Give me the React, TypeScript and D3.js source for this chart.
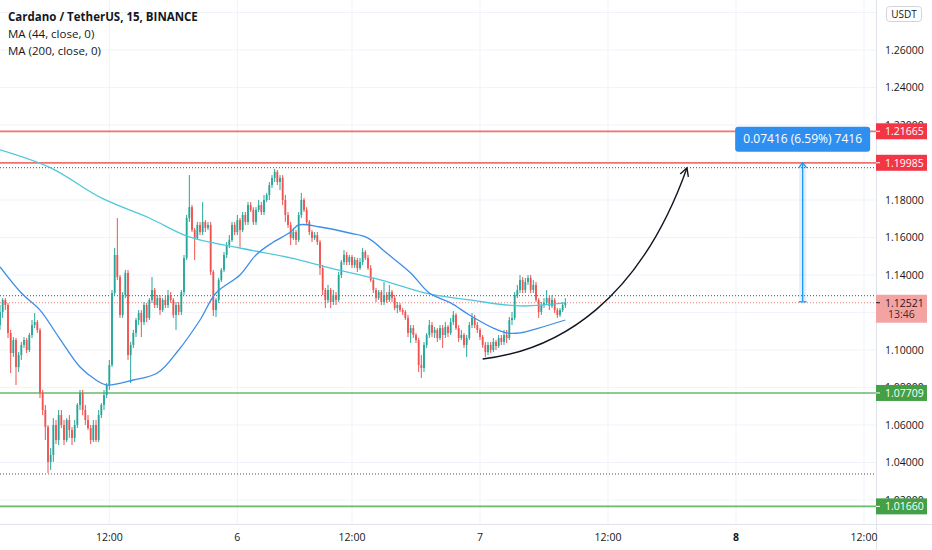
import React, { useEffect } from 'react';
import * as d3 from 'd3';

// 15m ADA/USDT candles, [open, high, low, close]
const candles: [number, number, number, number][] = [
  [1.1133, 1.1240, 1.1107, 1.1203], [1.1203, 1.1277, 1.1171, 1.1267], [1.1267, 1.1277, 1.1213, 1.1240],
  [1.1240, 1.1251, 1.1064, 1.1091], [1.1091, 1.1107, 1.0877, 1.0984], [1.0984, 1.1069, 1.0963, 1.1053],
  [1.1053, 1.1064, 1.0813, 1.0909], [1.0909, 1.0989, 1.0883, 1.0973], [1.0973, 1.1043, 1.0947, 1.1027],
  [1.1027, 1.1069, 1.1011, 1.1053], [1.1053, 1.1064, 1.0984, 1.1000], [1.1000, 1.1091, 1.0989, 1.1080],
  [1.1080, 1.1160, 1.1064, 1.1133], [1.1133, 1.1197, 1.1117, 1.1149], [1.1149, 1.1160, 1.1091, 1.1107],
  [1.1107, 1.1117, 1.0744, 1.0771], [1.0771, 1.0787, 1.0653, 1.0680], [1.0680, 1.0707, 1.0520, 1.0589],
  [1.0589, 1.0600, 1.0344, 1.0403], [1.0403, 1.0477, 1.0360, 1.0440], [1.0440, 1.0637, 1.0403, 1.0600],
  [1.0600, 1.0627, 1.0499, 1.0520], [1.0520, 1.0680, 1.0493, 1.0653], [1.0653, 1.0680, 1.0584, 1.0600],
  [1.0600, 1.0627, 1.0493, 1.0520], [1.0520, 1.0637, 1.0509, 1.0627], [1.0627, 1.0653, 1.0531, 1.0573],
  [1.0573, 1.0589, 1.0493, 1.0531], [1.0531, 1.0627, 1.0509, 1.0600], [1.0600, 1.0717, 1.0584, 1.0707],
  [1.0707, 1.0787, 1.0680, 1.0771], [1.0771, 1.0787, 1.0653, 1.0680], [1.0680, 1.0707, 1.0600, 1.0627],
  [1.0627, 1.0653, 1.0573, 1.0584], [1.0584, 1.0600, 1.0499, 1.0520], [1.0520, 1.0627, 1.0509, 1.0600],
  [1.0600, 1.0627, 1.0509, 1.0520], [1.0520, 1.0680, 1.0509, 1.0653], [1.0653, 1.0717, 1.0637, 1.0707],
  [1.0707, 1.0787, 1.0680, 1.0760], [1.0760, 1.0824, 1.0744, 1.0813], [1.0813, 1.0947, 1.0787, 1.0920],
  [1.0920, 1.1320, 1.0909, 1.1304], [1.1304, 1.1544, 1.1293, 1.1507], [1.1507, 1.1704, 1.1373, 1.1389],
  [1.1389, 1.1400, 1.1171, 1.1187], [1.1187, 1.1309, 1.1171, 1.1293], [1.1293, 1.1427, 1.1277, 1.1411],
  [1.1411, 1.1427, 1.0947, 1.0973], [1.0973, 1.1043, 1.0824, 1.1027], [1.1027, 1.1107, 1.1011, 1.1091],
  [1.1091, 1.1171, 1.1069, 1.1160], [1.1160, 1.1213, 1.1133, 1.1197], [1.1197, 1.1213, 1.1069, 1.1149],
  [1.1149, 1.1256, 1.1133, 1.1240], [1.1240, 1.1251, 1.1149, 1.1171], [1.1171, 1.1277, 1.1160, 1.1267],
  [1.1267, 1.1389, 1.1251, 1.1320], [1.1320, 1.1331, 1.1224, 1.1240], [1.1240, 1.1293, 1.1224, 1.1277],
  [1.1277, 1.1293, 1.1187, 1.1213], [1.1213, 1.1277, 1.1203, 1.1267], [1.1267, 1.1293, 1.1224, 1.1240],
  [1.1240, 1.1320, 1.1224, 1.1293], [1.1293, 1.1309, 1.1251, 1.1267], [1.1267, 1.1277, 1.1171, 1.1187],
  [1.1187, 1.1256, 1.1107, 1.1240], [1.1240, 1.1256, 1.1187, 1.1203], [1.1203, 1.1320, 1.1187, 1.1309],
  [1.1309, 1.1507, 1.1293, 1.1491], [1.1491, 1.1720, 1.1480, 1.1704], [1.1704, 1.1933, 1.1683, 1.1762],
  [1.1762, 1.1773, 1.1629, 1.1640], [1.1640, 1.1651, 1.1480, 1.1597], [1.1597, 1.1683, 1.1587, 1.1667],
  [1.1667, 1.1683, 1.1613, 1.1629], [1.1629, 1.1789, 1.1613, 1.1683], [1.1683, 1.1693, 1.1629, 1.1651],
  [1.1651, 1.1683, 1.1640, 1.1667], [1.1667, 1.1683, 1.1400, 1.1416], [1.1416, 1.1427, 1.1181, 1.1213],
  [1.1213, 1.1277, 1.1176, 1.1267], [1.1267, 1.1384, 1.1251, 1.1373], [1.1373, 1.1437, 1.1363, 1.1427],
  [1.1427, 1.1523, 1.1416, 1.1507], [1.1507, 1.1576, 1.1491, 1.1560], [1.1560, 1.1613, 1.1544, 1.1587],
  [1.1587, 1.1683, 1.1576, 1.1667], [1.1667, 1.1683, 1.1613, 1.1629], [1.1629, 1.1720, 1.1613, 1.1693],
  [1.1693, 1.1704, 1.1549, 1.1640], [1.1640, 1.1736, 1.1629, 1.1720], [1.1720, 1.1736, 1.1667, 1.1683],
  [1.1683, 1.1789, 1.1667, 1.1773], [1.1773, 1.1789, 1.1736, 1.1747], [1.1747, 1.1762, 1.1667, 1.1683],
  [1.1683, 1.1762, 1.1667, 1.1747], [1.1747, 1.1800, 1.1736, 1.1773], [1.1773, 1.1789, 1.1720, 1.1736],
  [1.1736, 1.1827, 1.1720, 1.1800], [1.1800, 1.1838, 1.1789, 1.1827], [1.1827, 1.1896, 1.1800, 1.1880],
  [1.1880, 1.1933, 1.1864, 1.1918], [1.1918, 1.1966, 1.1896, 1.1950], [1.1950, 1.1960, 1.1880, 1.1896],
  [1.1896, 1.1933, 1.1853, 1.1918], [1.1918, 1.1933, 1.1773, 1.1800], [1.1800, 1.1827, 1.1683, 1.1720],
  [1.1720, 1.1736, 1.1651, 1.1667], [1.1667, 1.1683, 1.1560, 1.1597], [1.1597, 1.1651, 1.1587, 1.1629],
  [1.1629, 1.1640, 1.1560, 1.1587], [1.1587, 1.1736, 1.1576, 1.1720], [1.1720, 1.1838, 1.1704, 1.1800],
  [1.1800, 1.1811, 1.1736, 1.1747], [1.1747, 1.1762, 1.1667, 1.1683], [1.1683, 1.1693, 1.1613, 1.1629],
  [1.1629, 1.1640, 1.1576, 1.1597], [1.1597, 1.1629, 1.1587, 1.1613], [1.1613, 1.1629, 1.1560, 1.1576],
  [1.1576, 1.1587, 1.1400, 1.1437], [1.1437, 1.1453, 1.1293, 1.1320], [1.1320, 1.1331, 1.1224, 1.1267],
  [1.1267, 1.1347, 1.1251, 1.1320], [1.1320, 1.1331, 1.1224, 1.1256], [1.1256, 1.1320, 1.1240, 1.1293],
  [1.1293, 1.1309, 1.1240, 1.1267], [1.1267, 1.1416, 1.1256, 1.1400], [1.1400, 1.1480, 1.1384, 1.1469],
  [1.1469, 1.1533, 1.1453, 1.1507], [1.1507, 1.1523, 1.1453, 1.1469], [1.1469, 1.1507, 1.1453, 1.1496],
  [1.1496, 1.1507, 1.1437, 1.1453], [1.1453, 1.1496, 1.1437, 1.1480], [1.1480, 1.1491, 1.1416, 1.1437],
  [1.1437, 1.1491, 1.1427, 1.1469], [1.1469, 1.1544, 1.1453, 1.1523], [1.1523, 1.1533, 1.1480, 1.1491],
  [1.1491, 1.1507, 1.1427, 1.1437], [1.1437, 1.1453, 1.1363, 1.1373], [1.1373, 1.1384, 1.1304, 1.1320],
  [1.1320, 1.1331, 1.1256, 1.1277], [1.1277, 1.1320, 1.1267, 1.1309], [1.1309, 1.1320, 1.1240, 1.1256],
  [1.1256, 1.1363, 1.1240, 1.1293], [1.1293, 1.1309, 1.1251, 1.1267], [1.1267, 1.1347, 1.1256, 1.1309],
  [1.1309, 1.1320, 1.1256, 1.1277], [1.1277, 1.1293, 1.1213, 1.1224], [1.1224, 1.1256, 1.1197, 1.1240],
  [1.1240, 1.1251, 1.1203, 1.1213], [1.1213, 1.1224, 1.1187, 1.1203], [1.1203, 1.1213, 1.1160, 1.1171],
  [1.1171, 1.1187, 1.1069, 1.1091], [1.1091, 1.1133, 1.1037, 1.1117], [1.1117, 1.1133, 1.1064, 1.1080],
  [1.1080, 1.1091, 1.1037, 1.1053], [1.1053, 1.1064, 1.0883, 1.0920], [1.0920, 1.0973, 1.0851, 1.0904],
  [1.0904, 1.1043, 1.0883, 1.1027], [1.1027, 1.1091, 1.1011, 1.1080], [1.1080, 1.1160, 1.1064, 1.1133],
  [1.1133, 1.1149, 1.1069, 1.1091], [1.1091, 1.1123, 1.1064, 1.1107], [1.1107, 1.1117, 1.1043, 1.1064],
  [1.1064, 1.1133, 1.1053, 1.1117], [1.1117, 1.1133, 1.1011, 1.1080], [1.1080, 1.1149, 1.1064, 1.1123],
  [1.1123, 1.1133, 1.1069, 1.1091], [1.1091, 1.1171, 1.1080, 1.1149], [1.1149, 1.1208, 1.1133, 1.1187],
  [1.1187, 1.1197, 1.1107, 1.1117], [1.1117, 1.1133, 1.1043, 1.1064], [1.1064, 1.1107, 1.1053, 1.1080],
  [1.1080, 1.1091, 1.1011, 1.1027], [1.1027, 1.1080, 1.0963, 1.1064], [1.1064, 1.1149, 1.1053, 1.1133],
  [1.1133, 1.1197, 1.1117, 1.1171], [1.1171, 1.1187, 1.1117, 1.1133], [1.1133, 1.1149, 1.1091, 1.1107],
  [1.1107, 1.1117, 1.1053, 1.1069], [1.1069, 1.1080, 1.1011, 1.1027], [1.1027, 1.1043, 1.0963, 1.0989],
  [1.0989, 1.1043, 1.0973, 1.1027], [1.1027, 1.1043, 1.0984, 1.1000], [1.1000, 1.1064, 1.0989, 1.1043],
  [1.1043, 1.1053, 1.1000, 1.1021], [1.1021, 1.1080, 1.1011, 1.1064], [1.1064, 1.1080, 1.1027, 1.1043],
  [1.1043, 1.1107, 1.1027, 1.1080], [1.1080, 1.1107, 1.1037, 1.1064], [1.1064, 1.1176, 1.1053, 1.1160],
  [1.1160, 1.1203, 1.1133, 1.1171], [1.1171, 1.1309, 1.1160, 1.1293], [1.1293, 1.1347, 1.1277, 1.1320],
  [1.1320, 1.1400, 1.1304, 1.1373], [1.1373, 1.1389, 1.1304, 1.1320], [1.1320, 1.1384, 1.1304, 1.1363],
  [1.1363, 1.1400, 1.1347, 1.1384], [1.1384, 1.1400, 1.1304, 1.1320], [1.1320, 1.1373, 1.1304, 1.1347],
  [1.1347, 1.1363, 1.1256, 1.1267], [1.1267, 1.1277, 1.1171, 1.1203], [1.1203, 1.1256, 1.1187, 1.1240],
  [1.1240, 1.1277, 1.1224, 1.1251], [1.1251, 1.1320, 1.1240, 1.1277], [1.1277, 1.1293, 1.1213, 1.1235],
  [1.1235, 1.1293, 1.1224, 1.1267], [1.1267, 1.1277, 1.1197, 1.1213], [1.1213, 1.1224, 1.1171, 1.1187],
  [1.1187, 1.1224, 1.1176, 1.1213], [1.1213, 1.1256, 1.1203, 1.1240], [1.1240, 1.1277, 1.1224, 1.12521],
];

// moving averages sampled along the bars (bar index, value)
const ma44Bars = [0, 8, 15, 22, 30, 36, 40, 50, 59, 67, 75, 81, 90, 96, 102, 109, 112, 120, 131, 138, 145, 154, 161, 169, 176, 185, 190, 195, 202, 212];
const ma44Values = [1.1443, 1.1304, 1.1213, 1.1069, 1.0909, 1.0840, 1.0813, 1.0840, 1.0877, 1.1000, 1.1160, 1.1304, 1.1400, 1.1507, 1.1571, 1.1629, 1.1667, 1.1656, 1.1624, 1.1597, 1.1517, 1.1411, 1.1304, 1.1251, 1.1187, 1.1117, 1.1091, 1.1091, 1.1117, 1.1160];
const ma200Bars = [0, 19, 38, 56, 71, 90, 109, 124, 143, 161, 176, 195, 212];
const ma200Values = [1.2067, 1.1971, 1.1811, 1.1704, 1.1603, 1.1544, 1.1491, 1.1437, 1.1373, 1.1299, 1.1267, 1.1235, 1.1251];

const priceTicks = [1.02, 1.04, 1.06, 1.08, 1.10, 1.12, 1.14, 1.16, 1.18, 1.20, 1.22, 1.24, 1.26, 1.28];
// tick labels that sit fully under a price badge are not shown by the chart
const hiddenTickLabels = [1.12, 1.20, 1.28];
const timeTickBars = [41, 89, 132, 180, 228, 276, 324];
const timeTickLabels = ['12:00', '6', '12:00', '7', '12:00', '8', '12:00'];

const resistanceLevels = [1.21665, 1.19985];
const supportLevels = [1.07709, 1.01660];
const dottedLevels = [1.19723, 1.12896, 1.03387];
const lastPrice = 1.12521;
const countdown = '13:46';

const measureBar = 301;
const measureFrom = 1.12569;
const measureTo = 1.19985;
const measureText = '0.07416 (6.59%) 7416';

// hand-drawn projection arrow: start, two control points, end
const arrowBars = [181, 210, 240, 257.6];
const arrowPrices = [1.0952, 1.1000, 1.1267, 1.1971];

const legendTitle = 'Cardano / TetherUS, 15, BINANCE';
const legendLines = ['MA (44, close, 0)', 'MA (200, close, 0)'];

const UP = '#26a69a';
const DOWN = '#ef5350';
const FONT = '"Open Sans", "Noto Sans", sans-serif';

export default function App() {
  useEffect(() => {
    document.body.style.margin = '0';
  }, []);

  const width = 932, height = 550;
  const plotRight = 876, plotBottom = 524;

  const x = d3.scaleLinear().domain([0, 328.5]).range([0, plotRight]);
  const y = d3.scaleLinear().domain([1.10, 1.26]).range([350, 50]);

  const line = d3.line<[number, number]>()
    .x(d => x(d[0]))
    .y(d => y(d[1]))
    .curve(d3.curveCatmullRom.alpha(0.5));

  const ma44Path = line(ma44Bars.map((b, i) => [b, ma44Values[i]]))!;
  const ma200Path = line(ma200Bars.map((b, i) => [b, ma200Values[i]]))!;

  const bodyW = 1.8;

  const ap = arrowBars.map((b, i) => [x(b), y(arrowPrices[i])]);
  const arrowPath = d3.path();
  arrowPath.moveTo(ap[0][0], ap[0][1]);
  arrowPath.bezierCurveTo(ap[1][0], ap[1][1], ap[2][0], ap[2][1], ap[3][0], ap[3][1]);
  const ang = Math.atan2(ap[3][1] - ap[2][1], ap[3][0] - ap[2][0]);
  const headLen = 9;
  const head = [ang + Math.PI - 0.5, ang + Math.PI + 0.5].map(a => [ap[3][0] + headLen * Math.cos(a), ap[3][1] + headLen * Math.sin(a)]);

  const mx = x(measureBar);
  const mTop = y(measureTo);
  const mBot = y(measureFrom);

  const axisLabelX = 885;

  const priceLabel = (p: number, bg: string, fg: string, key: string) => (
    <g key={key}>
      <rect x={plotRight} y={y(p) - 8} width={51} height={16} fill={bg} />
      <line x1={plotRight} x2={plotRight + 4} y1={y(p)} y2={y(p)} stroke={fg} strokeWidth={1} />
      <text x={axisLabelX} y={y(p) + 3.8} fontSize={10.5} fill={fg} fontFamily={FONT}>{p.toFixed(5)}</text>
    </g>
  );

  return (
    <svg width={width} height={height} style={{ position: 'absolute', left: 0, top: 0, background: '#fff' }}>
      <defs>
        <clipPath id="plot">
          <rect x={0} y={0} width={plotRight} height={plotBottom} />
        </clipPath>
      </defs>

      {/* grid */}
      <g stroke="#f0f3fa" strokeWidth={1}>
        {priceTicks.map(t => (
          <line key={t} x1={0} x2={plotRight} y1={y(t)} y2={y(t)} />
        ))}
        {timeTickBars.map((b, i) => (
          <line key={i} x1={x(b)} x2={x(b)} y1={0} y2={plotBottom} />
        ))}
      </g>

      <g clipPath="url(#plot)">
        {/* dotted reference lines */}
        {dottedLevels.map(p => (
          <line key={p} x1={0} x2={plotRight} y1={y(p)} y2={y(p)} stroke="#4a4e59" strokeWidth={1} strokeDasharray="1 2" />
        ))}
        <line x1={0} x2={plotRight} y1={y(lastPrice)} y2={y(lastPrice)} stroke={DOWN} strokeOpacity={0.75} strokeWidth={1} strokeDasharray="1 2" />

        {/* horizontal levels */}
        {resistanceLevels.map(p => (
          <line key={p} x1={0} x2={plotRight} y1={y(p)} y2={y(p)} stroke="#f05a52" strokeOpacity={0.85} strokeWidth={1.8} />
        ))}
        {supportLevels.map(p => (
          <line key={p} x1={0} x2={plotRight} y1={y(p)} y2={y(p)} stroke="#4caf50" strokeOpacity={0.85} strokeWidth={1.6} />
        ))}

        {/* candles */}
        {candles.map(([o, h, l, c], i) => {
          const col = c >= o ? UP : DOWN;
          const cx = x(i);
          const top = y(Math.max(o, c));
          const bh = Math.max(1, y(Math.min(o, c)) - top);
          return (
            <g key={i}>
              <line x1={cx} x2={cx} y1={y(h)} y2={y(l)} stroke={col} strokeWidth={1} />
              <rect x={cx - bodyW / 2} y={top} width={bodyW} height={bh} fill={col} />
            </g>
          );
        })}

        {/* moving averages */}
        <path d={ma200Path} fill="none" stroke="#4fc8dc" strokeWidth={1.3} />
        <path d={ma44Path} fill="none" stroke="#3d8ee8" strokeWidth={1.3} />

        {/* projection arrow */}
        <path d={arrowPath.toString()} fill="none" stroke="#131722" strokeWidth={1.4} />
        <polyline points={`${head[0][0]},${head[0][1]} ${ap[3][0]},${ap[3][1]} ${head[1][0]},${head[1][1]}`} fill="none" stroke="#131722" strokeWidth={1.4} />

        {/* price range measure */}
        <rect x={mx - 3.5} y={mTop} width={7} height={mBot - mTop} fill="#2196f3" fillOpacity={0.15} />
        <line x1={mx} x2={mx} y1={mTop} y2={mBot} stroke="#2196f3" strokeWidth={1.3} />
        <polyline points={`${mx - 4},${mTop + 5} ${mx},${mTop} ${mx + 4},${mTop + 5}`} fill="none" stroke="#2196f3" strokeWidth={1.3} />
        <line x1={mx - 4} x2={mx + 4} y1={mBot} y2={mBot} stroke="#2196f3" strokeWidth={1.3} />
        <rect x={mx - 67.5} y={mTop - 36} width={135} height={25} rx={3} fill="#2f8ff0" />
        <text x={mx} y={mTop - 19.5} textAnchor="middle" fontSize={12} fill="#fff" fontFamily={FONT}>{measureText}</text>
      </g>

      {/* axes frame */}
      <line x1={plotRight + 0.5} x2={plotRight + 0.5} y1={0} y2={height} stroke="#e0e3eb" />
      <line x1={0} x2={width} y1={plotBottom + 0.5} y2={plotBottom + 0.5} stroke="#e0e3eb" />

      {/* price axis */}
      {priceTicks.filter(t => !hiddenTickLabels.includes(t)).map(t => (
        <text key={t} x={axisLabelX} y={y(t) + 3.8} fontSize={10.5} fill="#131722" fontFamily={FONT}>{t.toFixed(5)}</text>
      ))}
      <rect x={886.5} y={6.5} width={35} height={15} rx={3} fill="#fff" stroke="#d1d4dc" />
      <text x={904} y={17.5} textAnchor="middle" fontSize={10} fill="#131722" fontFamily={FONT}>USDT</text>

      {resistanceLevels.map(p => priceLabel(p, '#f23645', '#fff', 'r' + p))}
      {supportLevels.map(p => priceLabel(p, '#43a047', '#fff', 's' + p))}
      <g>
        <rect x={plotRight} y={y(lastPrice) - 8} width={51} height={28} fill="#f4a3a3" />
        <line x1={plotRight} x2={plotRight + 4} y1={y(lastPrice)} y2={y(lastPrice)} stroke="#131722" />
        <text x={axisLabelX} y={y(lastPrice) + 3.8} fontSize={10.5} fill="#2a1a1a" fontFamily={FONT}>{lastPrice.toFixed(5)}</text>
        <text x={axisLabelX + 3} y={y(lastPrice) + 15.5} fontSize={10.5} fill="#4a2a2a" fontFamily={FONT}>{countdown}</text>
      </g>

      {/* time axis */}
      {timeTickBars.map((b, i) => (
        <text key={i} x={x(b)} y={541} textAnchor="middle" fontSize={10.5} fill="#131722"
          fontWeight={timeTickLabels[i] === '8' ? 700 : 400} fontFamily={FONT}>{timeTickLabels[i]}</text>
      ))}

      {/* legend */}
      <text x={8} y={21} fontSize={11.5} fontWeight={700} fill="#131722" fontFamily={FONT}>{legendTitle}</text>
      {legendLines.map((t, i) => (
        <text key={t} x={8} y={38 + i * 17} fontSize={11.5} fill="#131722" fontFamily={FONT}>{t}</text>
      ))}
    </svg>
  );
}
